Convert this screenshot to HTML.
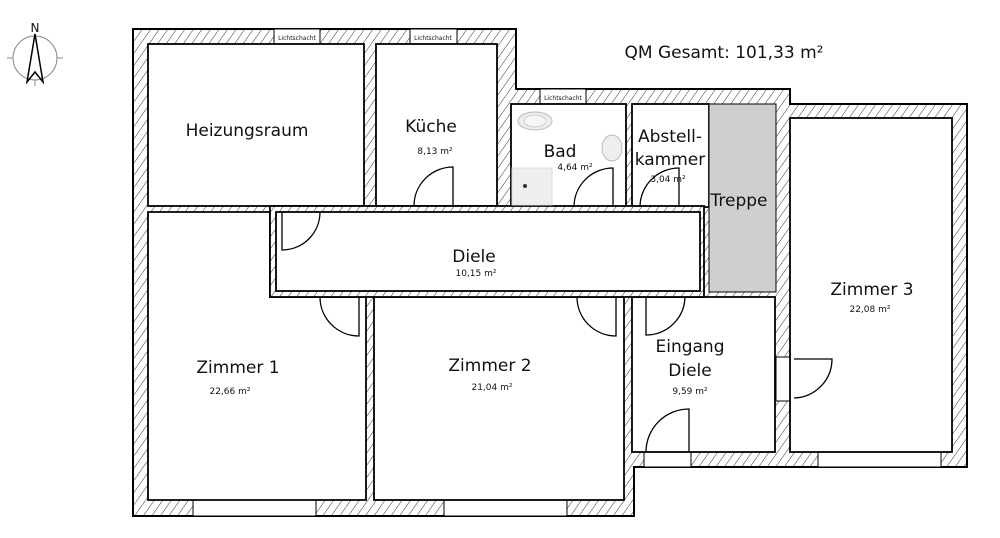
<!DOCTYPE html>
<html><head><meta charset="utf-8"><style>
html,body{margin:0;padding:0;background:#fff;}
svg{display:block;}
text{font-family:"DejaVu Sans","Liberation Sans",sans-serif;fill:#111;}
</style></head><body>
<svg width="1000" height="538" viewBox="0 0 1000 538" xmlns="http://www.w3.org/2000/svg">
<defs>
<pattern id="h" width="7" height="7" patternUnits="userSpaceOnUse" patternTransform="rotate(35)">
<rect width="7" height="7" fill="#fff"/>
<line x1="0" y1="0" x2="0" y2="7" stroke="#333" stroke-width="1"/>
</pattern>
</defs>
<!-- outer wall -->
<path d="M133,29 L516,29 L516,89 L790,89 L790,104 L967,104 L967,467 L634,467 L634,516 L133,516 Z" fill="url(#h)" stroke="#000" stroke-width="2"/>
<!-- windows -->
<g fill="#fff" stroke="#000" stroke-width="1">
<rect x="274" y="29" width="46" height="15"/>
<rect x="410" y="29" width="47" height="15"/>
<rect x="540" y="89" width="46" height="15"/>
<rect x="193" y="500" width="123" height="16"/>
<rect x="444" y="500" width="123" height="16"/>
<rect x="644" y="452" width="47" height="15"/>
<rect x="818" y="452" width="123" height="15"/>
<rect x="776" y="357" width="14" height="44"/>
</g>
<g font-size="6" text-anchor="middle">
<text x="297" y="40">Lichtschacht</text>
<text x="433" y="40">Lichtschacht</text>
<text x="563" y="100">Lichtschacht</text>
</g>
<!-- rooms -->
<g fill="#fff" stroke="#000" stroke-width="1.8">
<rect x="148" y="44" width="216" height="162"/>
<rect x="376" y="44" width="121" height="162"/>
<rect x="511" y="104" width="115" height="103"/>
<rect x="632" y="104" width="77" height="103"/>
<path d="M148,212 L270,212 L270,297 L366,297 L366,500 L148,500 Z"/>
<rect x="374" y="297" width="250" height="203"/>
<rect x="632" y="297" width="143" height="155"/>
<rect x="790" y="118" width="162" height="334"/>
<rect x="270" y="206" width="434" height="91" fill="url(#h)"/>
<rect x="276" y="212" width="424" height="79"/>
</g>
<rect x="709" y="104" width="67" height="188" fill="#cfcfcf" stroke="#000" stroke-width="1"/>
<!-- bath fixtures -->
<ellipse cx="535" cy="121" rx="17" ry="9" fill="#eee" stroke="#bbb"/>
<ellipse cx="535" cy="121" rx="11" ry="6" fill="#f6f6f6" stroke="#ccc"/>
<ellipse cx="612" cy="148" rx="10" ry="13" fill="#eee" stroke="#bbb"/>
<rect x="512" y="168" width="40" height="37" fill="#eee" stroke="#ddd"/>
<circle cx="525" cy="186" r="2" fill="#333"/>
<!-- doors -->
<g fill="none" stroke="#000" stroke-width="1.3">
<path d="M453,206 L453,167 A39,39 0 0 0 414,206"/>
<path d="M613,207 L613,168 A39,39 0 0 0 574,207"/>
<path d="M679,207 L679,168 A39,39 0 0 0 640,207"/>
<path d="M282,212 L282,250 A38,38 0 0 0 320,212"/>
<path d="M359,297 L359,336 A39,39 0 0 1 320,297"/>
<path d="M616,297 L616,336 A39,39 0 0 1 577,297"/>
<path d="M646,297 L646,335 A39,39 0 0 0 685,297"/>
<path d="M689,452 L689,409 A43,43 0 0 0 646,452"/>
<path d="M794,359 L832,359 A39,39 0 0 1 794,398"/>
</g>
<!-- compass -->
<g stroke="#000" fill="none">
<circle cx="35" cy="58" r="22" stroke="#888" stroke-width="1"/>
<line x1="7" y1="58" x2="13" y2="58" stroke="#888"/><line x1="57" y1="58" x2="63" y2="58" stroke="#888"/>
<line x1="35" y1="80" x2="35" y2="86" stroke="#888"/>
<path d="M35,34 L27,82 L35,72 L43,82 Z" stroke-width="1.5"/>
</g>
<text x="35" y="32" font-size="12" text-anchor="middle">N</text>
<!-- labels -->
<g text-anchor="middle">
<text x="724" y="58" font-size="17">QM Gesamt: 101,33 m²</text>
<text x="247" y="136" font-size="17">Heizungsraum</text>
<text x="431" y="132" font-size="17">Küche</text>
<text x="435" y="154" font-size="9">8,13 m²</text>
<text x="560" y="157" font-size="17">Bad</text>
<text x="575" y="170" font-size="9">4,64 m²</text>
<text x="670" y="142" font-size="17">Abstell-</text>
<text x="670" y="165" font-size="17">kammer</text>
<text x="668" y="182" font-size="9">3,04 m²</text>
<text x="739" y="206" font-size="17">Treppe</text>
<text x="474" y="262" font-size="17">Diele</text>
<text x="476" y="276" font-size="9">10,15 m²</text>
<text x="238" y="373" font-size="17">Zimmer 1</text>
<text x="230" y="394" font-size="9">22,66 m²</text>
<text x="490" y="371" font-size="17">Zimmer 2</text>
<text x="492" y="390" font-size="9">21,04 m²</text>
<text x="690" y="352" font-size="17">Eingang</text>
<text x="690" y="376" font-size="17">Diele</text>
<text x="690" y="394" font-size="9">9,59 m²</text>
<text x="872" y="295" font-size="17">Zimmer 3</text>
<text x="870" y="312" font-size="9">22,08 m²</text>
</g>
</svg>
</body></html>
